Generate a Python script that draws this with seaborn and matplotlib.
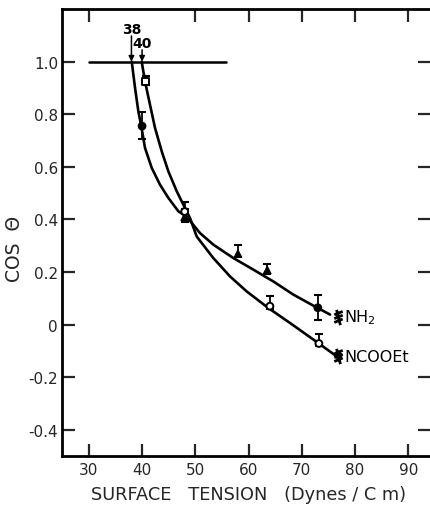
import matplotlib
matplotlib.use("Agg")
import matplotlib.pyplot as plt
from matplotlib.path import Path
import pandas as pd
import seaborn as sns

# Fitted curves of contact angle vs. surface tension
nh2_curve_x = [38.06, 38.68, 39.30, 39.80, 40.55, 41.81, 43.37, 44.93, 46.81, 48.38,
               50.88, 53.38, 57.14, 60.89, 64.65, 68.40, 72.16, 75.30]
nh2_curve_y = [1.0, 0.900, 0.811, 0.760, 0.672, 0.596, 0.532, 0.482, 0.431, 0.410,
               0.348, 0.304, 0.253, 0.209, 0.164, 0.114, 0.072, 0.038]
ncooet_curve_x = [39.93, 40.55, 41.49, 42.43, 43.69, 44.93, 46.51, 47.75, 49.0,
                  50.26, 53.38, 56.52, 59.65, 63.71, 67.78, 72.16, 76.55]
ncooet_curve_y = [1.0, 0.925, 0.836, 0.748, 0.659, 0.583, 0.507, 0.456, 0.405,
                  0.335, 0.253, 0.183, 0.126, 0.063, 0.006, -0.057, -0.121]

# Measured points (filled = NH2 surface, open = NCOOEt surface)
nh2_x = [40.0, 48.0, 58.0, 63.5, 73.0]
nh2_y = [0.755, 0.41, 0.27, 0.208, 0.064]
nh2_err_lo = [0.05, 0.02, 0.014, 0.014, 0.046]
nh2_err_hi = [0.055, 0.03, 0.032, 0.024, 0.048]
nh2_marker = ["o", "^", "^", "^", "o"]

ncooet_x = [40.7, 48.0, 64.0, 73.2]
ncooet_y = [0.925, 0.43, 0.07, -0.072]
ncooet_err_lo = [0.015, 0.01, 0.01, 0.01]
ncooet_err_hi = [0.02, 0.035, 0.038, 0.036]
ncooet_marker = ["s", "o", "o", "o"]

# Critical surface tension markers
crit_values = [38, 40]
crit_labels = ["38", "40"]
crit_label_y = [1.125, 1.072]

x_ticks = [30, 40, 50, 60, 70, 80, 90]
y_ticks = [1.0, 0.8, 0.6, 0.4, 0.2, 0.0, -0.2, -0.4]
y_tick_labels = ["1.0", "0.8", "0.6", "0.4", "0.2", "0", "-0.2", "-0.4"]

sns.set_style("ticks")
plt.rcParams["font.family"] = ["DejaVu Sans"]

fig = plt.figure(figsize=(4.31, 5.06), dpi=100)
ax = fig.add_axes([0.1443, 0.0968, 0.865, 0.8832])

ink = "black"

curves = pd.concat([
    pd.DataFrame({"tension": nh2_curve_x, "cos": nh2_curve_y, "surface": "NH2"}),
    pd.DataFrame({"tension": ncooet_curve_x, "cos": ncooet_curve_y, "surface": "NCOOEt"}),
])
sns.lineplot(data=curves, x="tension", y="cos", units="surface", estimator=None,
             sort=False, color=ink, lw=1.9, ax=ax)

# Error bars
ax.errorbar(nh2_x, nh2_y, yerr=[nh2_err_lo, nh2_err_hi], fmt="none",
            ecolor=ink, elinewidth=1.3, capsize=3, capthick=1.5, zorder=3)
ax.errorbar(ncooet_x, ncooet_y, yerr=[ncooet_err_lo, ncooet_err_hi], fmt="none",
            ecolor=ink, elinewidth=1.3, capsize=3, capthick=1.5, zorder=3)

pts_nh2 = pd.DataFrame({"tension": nh2_x, "cos": nh2_y, "shape": nh2_marker})
pts_ncooet = pd.DataFrame({"tension": ncooet_x, "cos": ncooet_y, "shape": ncooet_marker})
sns.scatterplot(data=pts_nh2, x="tension", y="cos", style="shape",
                markers={"o": "o", "^": "^"}, color=ink, edgecolor=ink,
                s=30, linewidth=0.8, legend=False, zorder=4, ax=ax)
sns.scatterplot(data=pts_ncooet, x="tension", y="cos", style="shape",
                markers={"s": "s", "o": "o"}, facecolor="white", edgecolor=ink,
                s=24, linewidth=1.4, legend=False, zorder=4, ax=ax)

# Reference line at cos = 1 and the arrows to the critical tensions
ax.plot([30, 55.8], [1.0, 1.0], color=ink, lw=1.8)
for xv, lab, ly in zip(crit_values, crit_labels, crit_label_y):
    ax.annotate("", xy=(xv, 1.0), xytext=(xv, ly - 0.027),
                arrowprops=dict(arrowstyle="-|>", color=ink, lw=1.1,
                                mutation_scale=8, shrinkA=0, shrinkB=0))
    ax.text(xv, ly, lab, ha="center", va="center", fontsize=10,
            fontweight="bold", color=ink)

# Hatched surface symbol at the end of each curve
hatch = Path(
    [(0.25, -1), (0.0, 0.0), (-0.25, 1), (-0.55, 0.35), (0.55, 0.8),
     (-0.55, -0.15), (0.55, 0.3), (-0.55, -0.65), (0.55, -0.2)],
    [Path.MOVETO, Path.LINETO, Path.LINETO, Path.MOVETO, Path.LINETO,
     Path.MOVETO, Path.LINETO, Path.MOVETO, Path.LINETO],
)
end_x = [76.8, 76.8]
end_y = [0.03, -0.12]
ax.plot(end_x, end_y, linestyle="none", marker=hatch, ms=11, mew=2.0,
        mec=ink, mfc="none", zorder=5)
ax.plot([76.8], [-0.115], "o", color=ink, ms=4.5, zorder=5)
ax.text(78.0, 0.03, "NH$_2$", ha="left", va="center", fontsize=11.5, color=ink)
ax.text(78.0, -0.12, "NCOOEt", ha="left", va="center", fontsize=11.5, color=ink)

ax.set_xlim(25, 95)
ax.set_ylim(-0.5, 1.2)
ax.set_xticks(x_ticks)
ax.set_xticklabels([str(t) for t in x_ticks])
ax.set_yticks(y_ticks)
ax.set_yticklabels(y_tick_labels)
ax.tick_params(axis="both", direction="in", length=9, width=1.6,
               labelsize=11, top=True, right=True, pad=4)
ax.tick_params(axis="y", pad=3)
# no upper tick at 40
ax.xaxis.get_major_ticks()[1].tick2line.set_visible(False)
for tick in ax.yaxis.get_major_ticks():
    tick.tick2line.set_markersize(12)

for side in ["left", "bottom", "top", "right"]:
    ax.spines[side].set_linewidth(2.0)
    ax.spines[side].set_color(ink)

ax.set_xlabel("SURFACE   TENSION   (Dynes / C m)", fontsize=12.8, labelpad=6)
ax.set_ylabel("COS  \u0398", fontsize=13.5)
ax.yaxis.set_label_coords(-0.103, 0.465)

fig.savefig("out.png", dpi=100)
